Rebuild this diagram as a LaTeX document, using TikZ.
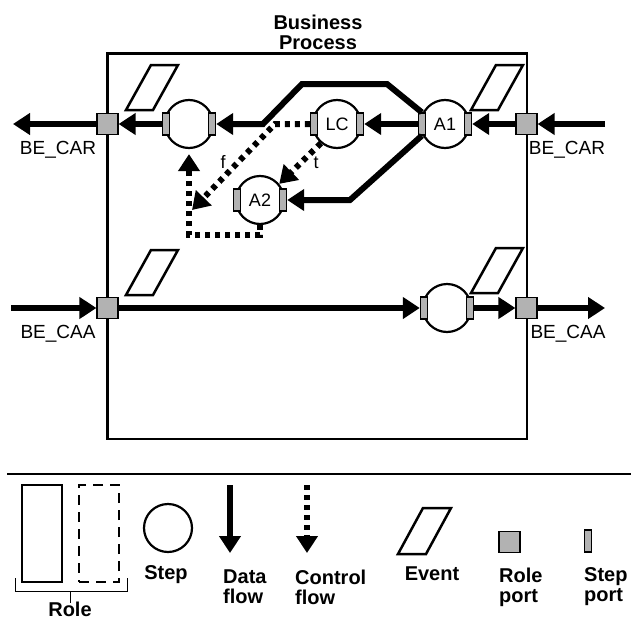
\documentclass[tikz,border=0pt]{standalone}
\usepackage{fontspec}
\setmainfont{Liberation Sans}
\usetikzlibrary{arrows.meta, positioning, calc}
\tikzset{
	stepnode/.style={
			circle,
			draw=black,
			line width=2.2pt,
			fill=white,
			minimum size=48pt,
			inner sep=0pt,
			font=\fontsize{18}{18}\selectfont
		},
	stepport/.style={
			rectangle,
			draw=black,
			line width=1.2pt,
			fill=gray!60,
			minimum width=7pt,
			minimum height=22pt,
			inner sep=0pt
		},
	roleport/.style={
			stepport,
			minimum width=21pt,
			minimum height=21pt
		},
	eventshape/.style={
			draw=black,
			line width=2.5pt
		},
	dataflow/.style={
			line width=6pt,
			-{Triangle[length=17pt,width=21pt]}
		},
	controlflow/.style={
			dataflow,
			dash pattern=on 5pt off 5pt
		},
	portlabel/.style={
			font=\fontsize{19}{19}\selectfont,
			inner sep=0pt
		},
	legendlabel/.style={
			font=\fontsize{20}{20}\selectfont\bfseries,
			align=left,
			inner sep=0pt
		}
}

\begin{document}
\begin{tikzpicture}[x=1pt, y=-1pt]
\useasboundingbox (0,0) rectangle (631,621);

% business process box
\node[legendlabel, align=center] (title) at (318,32) {Business\\Process};
\draw[line width=2.2pt] (107.5,53.5) rectangle (527,439);

% events
\foreach \x/\y in {126/110, 471/110, 126/295, 471/293}
	\draw[eventshape] (\x,\y) -- ++(25,-45) -- ++(27,0) -- ++(-25,45) -- cycle;

% steps
\node[stepnode] (s1) at (189,124) {};
\node[stepnode] (lc) at (337,124) {LC};
\node[stepnode] (a1) at (445,124) {A1};
\node[stepnode] (a2) at (260,200) {A2};
\node[stepnode] (s2) at (447,308) {};

\foreach \s in {s1, lc, a1, a2, s2} {
	\node[stepport, xshift=2pt] (\s L) at (\s.west) {};
	\node[stepport, xshift=-2pt] (\s R) at (\s.east) {};
}

% role ports
\node[roleport] (rpTL) at (107.5,124) {};
\node[roleport] (rpTR) at (526.5,124) {};
\node[roleport] (rpBL) at (107.5,308) {};
\node[roleport] (rpBR) at (526.5,308) {};

\coordinate (outTL) at (13,124);
\coordinate (outTR) at (605,124);
\coordinate (outBL) at (11,308);
\coordinate (outBR) at (605,308);

\node[portlabel] (carL) at (58,150) {BE\_CAR};
\node[portlabel] (carR) at (567,150) {BE\_CAR};
\node[portlabel] (caaL) at (58,334) {BE\_CAA};
\node[portlabel] (caaR) at (568,334) {BE\_CAA};

% data flow
\draw[dataflow] (outTR) -- (rpTR);
\draw[dataflow] (rpTR) -- (a1R);
\draw[dataflow] (a1L) -- (lcR);
\draw[dataflow] (a1L.north) -- (387,84) -- (302,84) -- (263,124) -- (s1R);
\draw[dataflow] (a1L.south) -- (350,200) -- (a2R);
\draw[dataflow] (s1L) -- (rpTL);
\draw[dataflow] (rpTL) -- (outTL);

\draw[dataflow] (outBL) -- (rpBL);
\draw[dataflow] (rpBL) -- (s2L);
\draw[dataflow] (s2R) -- (rpBR);
\draw[dataflow] (rpBR) -- (outBR);

% control flow
\draw[controlflow] (lcL) -- (275,124) -- (192,210);
\draw[controlflow] (lc.-130) -- (a2.40);
\draw[controlflow, shorten >=5pt] (a2.south) -- ++(0,10) -| (s1.south);
\node[portlabel, font=\fontsize{18}{18}\selectfont] (f) at (223,162) {f};
\node[portlabel, font=\fontsize{18}{18}\selectfont] (t) at (316,163) {t};

% legend
\draw[line width=1.5pt] (7,474) -- (631,474);
\node[draw, line width=2.5pt, minimum width=40pt, minimum height=97pt, inner sep=0pt] (roleA) at (42,533.5) {};
\node[draw, line width=2.5pt, dash pattern=on 10pt off 7pt, minimum width=40pt, minimum height=97pt, inner sep=0pt] (roleB) at (99,533.5) {};
\draw[line width=1pt] (15,578) -- (15,591) -- (127,591) -- (127,578);
\draw[line width=1pt] (70,591) -- (70,603);
\node[legendlabel] (roleT) at (70,609) {Role};

\node[stepnode] (stepL) at (168,528) {};
\node[legendlabel] (stepT) at (166,575) {Step};

\coordinate (dfA) at (230,485);
\coordinate (dfB) at (230,553);
\draw[dataflow] (dfA) -- (dfB);
\node[legendlabel, anchor=west] (dfT) at (223,587) {Data\\flow};

\coordinate (cfA) at (307,485);
\coordinate (cfB) at (307,553);
\draw[controlflow] (cfA) -- (cfB);
\node[legendlabel, anchor=west] (cfT) at (295,587) {Control\\flow};

\draw[eventshape] (398,554) -- ++(25,-46) -- ++(28,0) -- ++(-25,46) -- cycle;
\node[legendlabel] (evT) at (432,574) {Event};

\node[roleport] (rpLeg) at (509.5,542) {};
\node[legendlabel, anchor=west] (rpT) at (499,587) {Role\\port};

\node[stepport] (spLeg) at (588,541) {};
\node[legendlabel, anchor=west] (spT) at (584,587) {Step\\port};

\end{tikzpicture}
\end{document}
